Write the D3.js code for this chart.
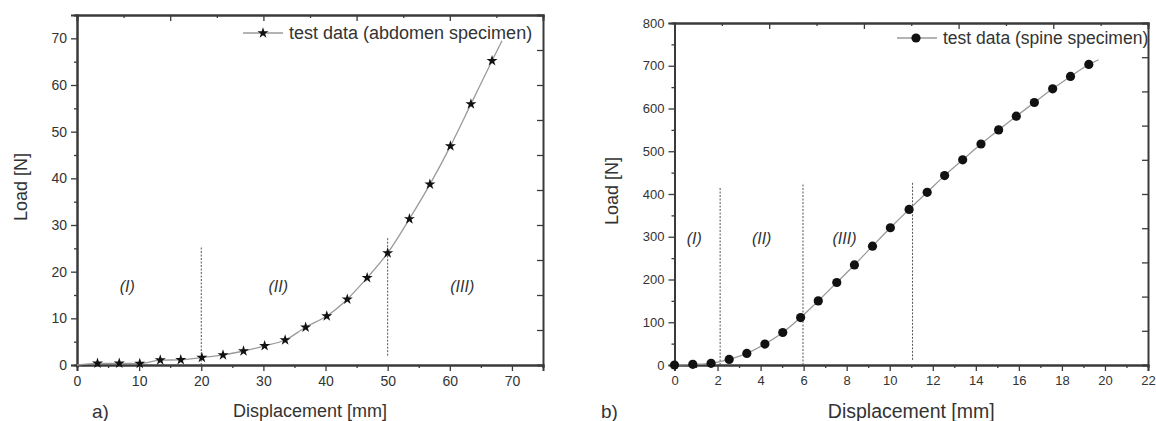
<!DOCTYPE html>
<html>
<head>
<meta charset="utf-8">
<script src="https://d3js.org/d3.v7.min.js"></script>
<style>
  body { margin: 0; background: #fff; }
  svg text { font-family: "Liberation Sans", Arial, sans-serif; fill: #333; }
</style>
</head>
<body>
<div id="chart"></div>
<script>
/* ---------- data: abdomen specimen (a) ---------- */
const abdomenDisp = [3.3, 6.8, 10.1, 13.4, 16.7, 20.1, 23.5, 26.8, 30.2, 33.5, 36.8, 40.2, 43.5, 46.7, 50.0, 53.5, 56.8, 60.1, 63.4, 66.8];
const abdomenLoad = [0.35, 0.35, 0.3, 1.05, 1.1, 1.6, 2.15, 3.0, 4.1, 5.35, 8.1, 10.5, 14.1, 18.7, 24.0, 31.3, 38.7, 46.9, 55.9, 65.2];
// fitted line runs a little past the markers at both ends
const abdomenLineStart = [0, 0];
const abdomenLineEnd = [68.4, 69.5];
const abdomenRegions = [20, 50];
const abdomenRegionSpan = [[0, 25.5], [2, 27.3]];
const abdomenRegionLabels = [{ t: "(I)", x: 8.1 }, { t: "(II)", x: 32.4 }, { t: "(III)", x: 62 }];

/* ---------- data: spine specimen (b) ---------- */
const spineDisp = [0, 0.85, 1.7, 2.54, 3.36, 4.2, 5.03, 5.86, 6.68, 7.54, 8.36, 9.2, 10.03, 10.9, 11.74, 12.55, 13.39, 14.24, 15.06, 15.88, 16.72, 17.57, 18.4, 19.25];
const spineLoad = [0, 1.5, 4, 13, 27, 49, 76, 111, 150, 193, 234, 278, 321, 364, 404, 443, 480, 517, 550, 582, 614, 646, 675, 703];
const spineLineEnd = [19.7, 714];
const spineRegions = [2.12, 5.97, 11.06];
const spineRegionSpan = [[0, 415], [0, 426], [12, 429]];
const spineRegionLabels = [{ t: "(I)", x: 0.92 }, { t: "(II)", x: 4.05 }, { t: "(III)", x: 7.9 }];

const W = 1156, H = 421;
const AXIS = "#3a3a3a", CURVE = "#9a9a9a";

const svg = d3.select("#chart").append("svg")
  .attr("width", W).attr("height", H);

function styleAxis(g, fontSize) {
  g.select(".domain").attr("stroke", AXIS).attr("stroke-width", 2);
  g.selectAll(".tick line").attr("stroke", AXIS).attr("stroke-width", 1.3);
  if (fontSize) g.selectAll(".tick text").attr("font-size", fontSize).attr("fill", "#3a3a3a");
  else g.selectAll(".tick text").remove();
}

function drawPanel(cfg) {
  const x = d3.scaleLinear().domain(cfg.xDomain).range(cfg.xRange);
  const y = d3.scaleLinear().domain(cfg.yDomain).range(cfg.yRange);
  const g = svg.append("g");
  const [x0, x1] = cfg.xRange, [y0, y1] = cfg.yRange;
  const fs = cfg.tickFont;

  /* bottom axis: labelled majors + minors */
  g.append("g").attr("transform", `translate(0,${y0})`)
    .call(d3.axisBottom(x).tickValues(cfg.xMinor).tickSize(3).tickFormat(""))
    .call(a => styleAxis(a, 0));
  g.append("g").attr("transform", `translate(0,${y0})`)
    .call(d3.axisBottom(x).tickValues(cfg.xMajor).tickSize(6).tickPadding(5).tickFormat(d3.format("d")))
    .call(a => styleAxis(a, fs));

  /* left axis */
  g.append("g").attr("transform", `translate(${x0},0)`)
    .call(d3.axisLeft(y).tickValues(cfg.yMinor).tickSize(3).tickFormat(""))
    .call(a => styleAxis(a, 0));
  g.append("g").attr("transform", `translate(${x0},0)`)
    .call(d3.axisLeft(y).tickValues(cfg.yMajor).tickSize(6).tickPadding(4).tickFormat(d3.format("d")))
    .call(a => styleAxis(a, fs));

  /* top axis, ticks pointing in */
  g.append("g").attr("transform", `translate(0,${y1})`)
    .call(d3.axisBottom(x).tickValues(cfg.topMinor).tickSize(3).tickFormat(""))
    .call(a => styleAxis(a, 0));
  g.append("g").attr("transform", `translate(0,${y1})`)
    .call(d3.axisBottom(x).tickValues(cfg.topMajor).tickSize(6).tickFormat(""))
    .call(a => styleAxis(a, 0));

  /* right axis, ticks pointing in */
  g.append("g").attr("transform", `translate(${x1},0)`)
    .call(d3.axisLeft(y).tickValues(cfg.rightTicks).tickSize(6).tickFormat(""))
    .call(a => styleAxis(a, 0));

  /* region separators */
  g.selectAll(".sep").data(cfg.regions).join("line")
    .attr("x1", d => x(d)).attr("x2", d => x(d))
    .attr("y1", (d, i) => y(cfg.regionSpan[i][0]))
    .attr("y2", (d, i) => y(cfg.regionSpan[i][1]))
    .attr("stroke", "#555").attr("stroke-width", 1)
    .attr("stroke-dasharray", "2,1.5");

  g.selectAll(".reg").data(cfg.regionLabels).join("text")
    .attr("x", d => x(d.x)).attr("y", y(cfg.regionLabelY))
    .attr("text-anchor", "middle").attr("dominant-baseline", "central")
    .attr("font-size", 16).attr("font-style", "italic")
    .text(d => d.t);

  /* fitted curve */
  const line = d3.line().x(d => x(d[0])).y(d => y(d[1])).curve(d3.curveMonotoneX);
  g.append("path").datum(cfg.linePts)
    .attr("d", line).attr("fill", "none")
    .attr("stroke", CURVE).attr("stroke-width", 1.3);

  /* markers */
  const pts = cfg.xs.map((v, i) => [v, cfg.ys[i]]);
  const STAR = 38, DOT = 4.6;
  if (cfg.marker === "star") {
    g.selectAll(".m").data(pts).join("path")
      .attr("transform", d => `translate(${x(d[0])},${y(d[1])})`)
      .attr("d", d3.symbol(d3.symbolStar, STAR)).attr("fill", "#111");
  } else {
    g.selectAll(".m").data(pts).join("circle")
      .attr("cx", d => x(d[0])).attr("cy", d => y(d[1]))
      .attr("r", DOT).attr("fill", "#111");
  }

  /* legend */
  const lg = cfg.legend;
  g.append("line").attr("x1", lg.x).attr("x2", lg.x + 40)
    .attr("y1", lg.y).attr("y2", lg.y)
    .attr("stroke", CURVE).attr("stroke-width", 1.3);
  if (cfg.marker === "star") {
    g.append("path").attr("transform", `translate(${lg.x + 20},${lg.y})`)
      .attr("d", d3.symbol(d3.symbolStar, STAR)).attr("fill", "#111");
  } else {
    g.append("circle").attr("cx", lg.x + 19).attr("cy", lg.y).attr("r", DOT).attr("fill", "#111");
  }
  g.append("text").attr("x", lg.x + 46).attr("y", lg.y)
    .attr("dominant-baseline", "central").attr("font-size", lg.size)
    .text(lg.text);

  /* axis titles */
  g.append("text")
    .attr("x", (x0 + x1) / 2).attr("y", 411)
    .attr("text-anchor", "middle").attr("dominant-baseline", "central")
    .attr("font-size", cfg.titleSize).text("Displacement [mm]");
  g.append("text")
    .attr("transform", `translate(${cfg.yTitleX},${cfg.yTitleY}) rotate(-90)`)
    .attr("text-anchor", "middle").attr("dominant-baseline", "central")
    .attr("font-size", 18).text("Load [N]");
  g.append("text")
    .attr("x", cfg.tagX).attr("y", 411)
    .attr("dominant-baseline", "central").attr("font-size", 19)
    .text(cfg.tag);
}

drawPanel({
  xDomain: [0, 75], xRange: [77, 543],
  yDomain: [0, 75], yRange: [365, 15],
  xMajor: d3.range(0, 71, 10), xMinor: d3.range(5, 76, 10),
  yMajor: d3.range(0, 71, 10), yMinor: d3.range(5, 76, 10),
  topMajor: [15, 30, 45, 60], topMinor: [7.5, 22.5, 37.5, 52.5, 67.5],
  rightTicks: d3.range(7.5, 70, 7.5),
  regions: abdomenRegions, regionSpan: abdomenRegionSpan,
  regionLabels: abdomenRegionLabels, regionLabelY: 16.9,
  xs: abdomenDisp, ys: abdomenLoad,
  linePts: [abdomenLineStart, ...abdomenDisp.map((v, i) => [v, abdomenLoad[i]]), abdomenLineEnd],
  marker: "star", tickFont: 14,
  legend: { x: 243, y: 33, size: 18, text: "test data (abdomen specimen)" },
  titleSize: 18, yTitleX: 21, yTitleY: 187,
  tag: "a)", tagX: 92
});

drawPanel({
  xDomain: [0, 22], xRange: [674.5, 1148],
  yDomain: [0, 800], yRange: [365, 23],
  xMajor: d3.range(0, 23, 2), xMinor: d3.range(1, 22, 2),
  yMajor: d3.range(0, 801, 100), yMinor: d3.range(50, 800, 100),
  topMajor: [4.4, 8.8, 13.2, 17.6], topMinor: [2.2, 6.6, 11, 15.4, 19.8],
  rightTicks: d3.range(80, 800, 80),
  regions: spineRegions, regionSpan: spineRegionSpan,
  regionLabels: spineRegionLabels, regionLabelY: 295,
  xs: spineDisp, ys: spineLoad,
  linePts: [...spineDisp.map((v, i) => [v, spineLoad[i]]), spineLineEnd],
  marker: "circle", tickFont: 13,
  legend: { x: 897, y: 38, size: 17.5, text: "test data (spine specimen)" },
  titleSize: 19.5, yTitleX: 612, yTitleY: 191,
  tag: "b)", tagX: 601
});
</script>
</body>
</html>
